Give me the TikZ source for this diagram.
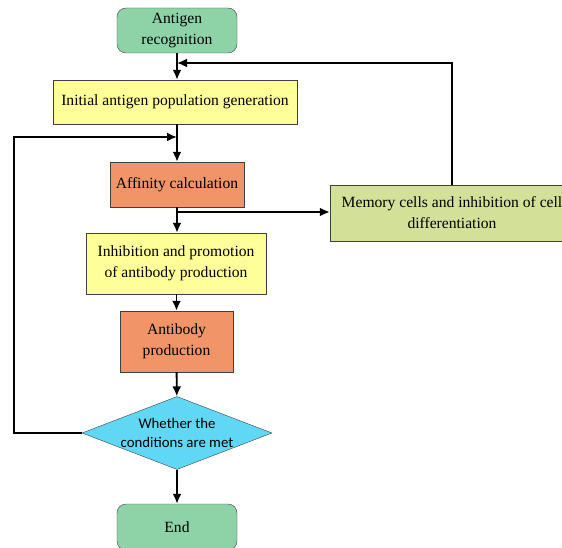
\documentclass[tikz,border=0pt]{standalone}
\usepackage{fontspec}
\setmainfont{Liberation Serif}
\newfontfamily\diafont{Carlito}
\usetikzlibrary{arrows.meta,shapes.geometric}
\definecolor{startgreen}{RGB}{142,211,168}
\definecolor{stepyellow}{RGB}{255,255,153}
\definecolor{steporange}{RGB}{241,148,104}
\definecolor{memgreen}{RGB}{210,224,152}
\definecolor{condcyan}{RGB}{95,215,245}

\begin{document}
\begin{tikzpicture}[x=1pt,y=-1pt,
  every node/.style={font=\fontsize{15.6}{21}\selectfont, align=center, inner sep=2pt},
  box/.style={draw=black!75, thin, minimum height=45pt},
  term/.style={box, rounded corners=9pt, fill=startgreen, minimum width=120pt},
  yellowbox/.style={box, fill=stepyellow},
  orangebox/.style={box, fill=steporange},
  cond/.style={diamond, aspect=2.6, draw=black!75, thin, fill=condcyan, inner sep=0pt,
    minimum width=190pt, minimum height=73pt, font=\diafont\fontsize{14.8}{19}\selectfont},
  line/.style={draw, line width=1.9pt, -{Latex[length=10pt,width=9pt]}}]
  \useasboundingbox (0,0) rectangle (562,548);
  \node[term] (antigen) at (177,30.5) {Antigen\\recognition};
  \node[yellowbox, minimum width=244pt, minimum height=44pt] (init) at (175,102) {Initial antigen population generation};
  \node[orangebox, minimum width=134pt] (affinity) at (177,184.5) {Affinity calculation};
  \node[box, fill=memgreen, minimum width=244pt, minimum height=56pt] (memory) at (452,213) {Memory cells and inhibition of cell\\differentiation};
  \node[yellowbox, minimum width=180pt, minimum height=61pt] (inhibit) at (176,263.5) {Inhibition and promotion\\of antibody production};
  \node[orangebox, minimum width=113pt, minimum height=61pt] (antibody) at (176.5,341.5) {Antibody\\production};
  \node[cond] (check) at (177,433) {Whether the\\conditions are met};
  \node[term, minimum height=46pt] (finish) at (177,527) {End};

  \coordinate (back) at (177,137);
  \coordinate (merge) at (177,63);
  \coordinate (split) at (177,212);

  \path[line] (antigen) -- (antigen |- init.north);
  \path[line] (memory.north) |- (merge);
  \path[line] (init.south -| back) -- (affinity);
  \path[line] (check.west) -- ++(-68,0) |- (back);
  \path[line] (affinity) -- (affinity |- inhibit.north);
  \path[line] (split) -- (memory.west |- split);
  \path[line] (inhibit.south -| antibody) -- (antibody);
  \path[line] (antibody) -- (check);
  \path[line] (check) -- (finish);
\end{tikzpicture}
\end{document}
